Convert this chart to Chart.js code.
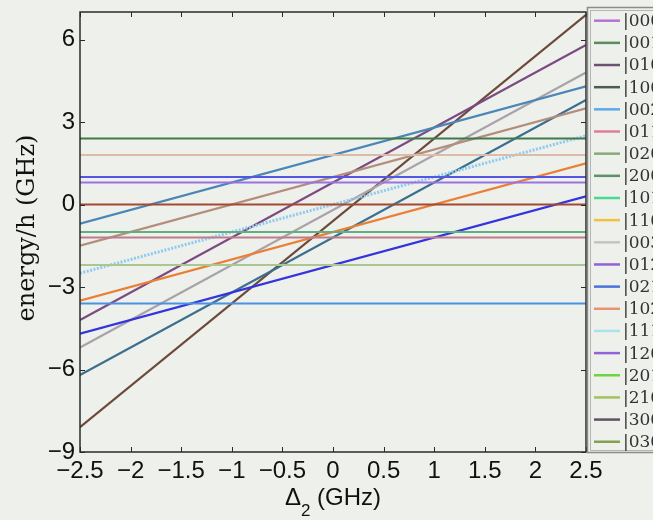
<!DOCTYPE html>
<html>
<head>
<meta charset="utf-8">
<script src="https://cdn.jsdelivr.net/npm/chart.js@4.4.1/dist/chart.umd.min.js"></script>
<style>
  html, body { margin: 0; padding: 0; background: #eef0ec; overflow: hidden; }
</style>
</head>
<body>
<canvas id="levelChart" width="653" height="520"></canvas>
<script>
// detuning sweep (GHz) at which every level is sampled
var detuning = [-2.5, 2.5];

// energy/h (GHz) of each drawn level at the two ends of the sweep
var levelStart = [2.4, 1.8, 1.0, 0.8, 0.0, -1.0, -1.2, -2.2, -3.6, -0.7, -1.5, -2.5, -3.5, -4.2, -4.7, -5.2, -6.2, -8.1];
var levelEnd   = [2.4, 1.8, 1.0, 0.8, 0.0, -1.0, -1.2, -2.2, -3.6,  4.3,  3.5,  2.5,  1.5,  5.8,  0.3,  4.8,  3.8,  6.9];
var levelColors = ['#3f7a4c', '#dcbca8', '#5656e6', '#9a72e4', '#a24a32', '#62b082', '#bc7c8c', '#aac792', '#4b92e2',
                   '#4a87b6', '#b48e7c', '#8ecbf0', '#ea8036', '#7c4a82', '#3434de', '#aaa2aa', '#3b6f8e', '#6c4a3a'];
var dottedLevel = 11;

// legend (states) as listed in the reference
var legendLabels = ['|000⟩', '|001⟩', '|010⟩', '|100⟩', '|002⟩', '|011⟩', '|020⟩', '|200⟩', '|101⟩', '|110⟩',
                    '|003⟩', '|012⟩', '|021⟩', '|102⟩', '|111⟩', '|120⟩', '|201⟩', '|210⟩', '|300⟩', '|030⟩'];
var legendColors = ['#b474d4', '#5c8c5c', '#6c5270', '#4c5c52', '#5aaae8', '#e27c9c', '#8aaa7a', '#5c926a', '#4cd892', '#f0c23e',
                    '#c2c6c2', '#9262d2', '#4c72da', '#ea9272', '#aae2ea', '#9262da', '#72d242', '#a2c262', '#625262', '#82a252'];

var xTicks = [-2.5, -2, -1.5, -1, -0.5, 0, 0.5, 1, 1.5, 2, 2.5];
var yTicks = [-9, -6, -3, 0, 3, 6];

var bgColor = '#eef0ec';
var frameColor = '#2a2a2a';

function minusSign(v) {
  return String(v).replace('-', '\u2212');
}

function buildDatasets() {
  var sets = [];
  for (var i = 0; i < levelStart.length; i++) {
    sets.push({
      label: 'level ' + i,
      data: [{ x: detuning[0], y: levelStart[i] }, { x: detuning[1], y: levelEnd[i] }],
      borderColor: levelColors[i],
      borderWidth: i === dottedLevel ? 3 : 2.2,
      borderDash: i === dottedLevel ? [2, 1.5] : [],
      pointRadius: 0,
      tension: 0,
      fill: false
    });
  }
  return sets;
}

var backgroundPlugin = {
  id: 'background',
  beforeDraw: function (chart) {
    var ctx = chart.ctx;
    ctx.save();
    ctx.fillStyle = bgColor;
    ctx.fillRect(0, 0, chart.width, chart.height);
    ctx.restore();
  }
};

var framePlugin = {
  id: 'frame',
  afterDatasetsDraw: function (chart) {
    var ctx = chart.ctx;
    var a = chart.chartArea;
    var xs = chart.scales.x, ys = chart.scales.y;
    var tick = 5;
    ctx.save();
    ctx.strokeStyle = frameColor;
    ctx.lineWidth = 1.5;
    ctx.strokeRect(a.left, a.top, a.right - a.left, a.bottom - a.top);
    ctx.lineWidth = 1;
    ctx.beginPath();
    xTicks.forEach(function (v) {
      var px = Math.round(xs.getPixelForValue(v)) + 0.5;
      ctx.moveTo(px, a.bottom); ctx.lineTo(px, a.bottom - tick);
      ctx.moveTo(px, a.top); ctx.lineTo(px, a.top + tick);
    });
    yTicks.forEach(function (v) {
      var py = Math.round(ys.getPixelForValue(v)) + 0.5;
      ctx.moveTo(a.left, py); ctx.lineTo(a.left + tick, py);
      ctx.moveTo(a.right, py); ctx.lineTo(a.right - tick, py);
    });
    ctx.stroke();
    ctx.restore();
  }
};

var titlePlugin = {
  id: 'axisTitles',
  afterDraw: function (chart) {
    var ctx = chart.ctx;
    var a = chart.chartArea;
    ctx.save();
    ctx.fillStyle = '#111';

    // y title, serif, rotated
    ctx.save();
    ctx.translate(34, 228);
    ctx.rotate(-Math.PI / 2);
    ctx.font = '24px "DejaVu Serif"';
    ctx.textAlign = 'center';
    ctx.textBaseline = 'alphabetic';
    ctx.fillText('energy/h (GHz)', 0, 0);
    ctx.restore();

    // x title: Delta with subscript 2
    var main = '24px "Liberation Sans"';
    var sub = '17px "Liberation Sans"';
    ctx.textBaseline = 'alphabetic';
    ctx.textAlign = 'left';
    ctx.font = main;
    var wD = ctx.measureText('\u0394').width;
    var wRest = ctx.measureText(' (GHz)').width;
    ctx.font = sub;
    var w2 = ctx.measureText('2').width;
    var x0 = (a.left + a.right) / 2 - (wD + w2 + wRest) / 2;
    var base = 505;
    ctx.font = main;
    ctx.fillText('\u0394', x0, base);
    ctx.font = sub;
    ctx.fillText('2', x0 + wD, base + 11);
    ctx.font = main;
    ctx.fillText(' (GHz)', x0 + wD + w2, base);
    ctx.restore();
  }
};

var legendPlugin = {
  id: 'stateLegend',
  afterDraw: function (chart) {
    var ctx = chart.ctx;
    var a = chart.chartArea;
    var left = a.right + 2;
    ctx.save();
    ctx.strokeStyle = '#8a8c8a';
    ctx.lineWidth = 1.5;
    ctx.strokeRect(left - 0.5, 7.5, 80, a.bottom - 7);
    ctx.strokeStyle = '#b4b6b4';
    ctx.lineWidth = 1;
    ctx.strokeRect(left + 2.5, 10.5, 80, a.bottom - 12);
    ctx.font = '17px "DejaVu Serif"';
    ctx.textBaseline = 'middle';
    ctx.textAlign = 'left';
    for (var i = 0; i < legendLabels.length; i++) {
      var y = 20.7 + i * 22.16;
      ctx.strokeStyle = legendColors[i];
      ctx.lineWidth = 2.5;
      ctx.beginPath();
      ctx.moveTo(left + 6, y);
      ctx.lineTo(left + 32, y);
      ctx.stroke();
      ctx.fillStyle = '#333';
      ctx.fillText(legendLabels[i], left + 35, y + 1);
    }
    ctx.restore();
  }
};

function zeroPadding(scale) {
  scale.paddingTop = 0;
  scale.paddingBottom = 0;
  scale.paddingLeft = 0;
  scale.paddingRight = 0;
}

var chartCtx = document.getElementById('levelChart').getContext('2d');
var levelChart = new Chart(chartCtx, {
  type: 'line',
  data: { datasets: buildDatasets() },
  options: {
    responsive: false,
    animation: false,
    devicePixelRatio: 1,
    layout: { padding: { left: 0, right: 67, top: 12, bottom: 0 } },
    plugins: {
      legend: { display: false },
      tooltip: { enabled: false }
    },
    scales: {
      x: {
        type: 'linear',
        min: -2.5,
        max: 2.5,
        grid: { display: false, drawTicks: false },
        border: { display: false },
        afterBuildTicks: function (scale) {
          scale.ticks = xTicks.map(function (v) { return { value: v }; });
        },
        afterFit: function (scale) {
          scale.height = 68;
          zeroPadding(scale);
        },
        ticks: {
          color: '#111',
          padding: 5,
          maxRotation: 0,
          autoSkip: false,
          font: { family: '"Liberation Sans"', size: 24 },
          callback: function (v) { return minusSign(v); }
        }
      },
      y: {
        type: 'linear',
        min: -9,
        max: 7,
        grid: { display: false, drawTicks: false },
        border: { display: false },
        afterBuildTicks: function (scale) {
          scale.ticks = yTicks.map(function (v) { return { value: v }; });
        },
        afterFit: function (scale) {
          scale.width = 80;
          zeroPadding(scale);
        },
        ticks: {
          color: '#111',
          padding: 5,
          autoSkip: false,
          font: { family: '"Liberation Sans"', size: 24 },
          callback: function (v) { return minusSign(v); }
        }
      }
    }
  },
  plugins: [backgroundPlugin, framePlugin, titlePlugin, legendPlugin]
});
</script>
</body>
</html>
